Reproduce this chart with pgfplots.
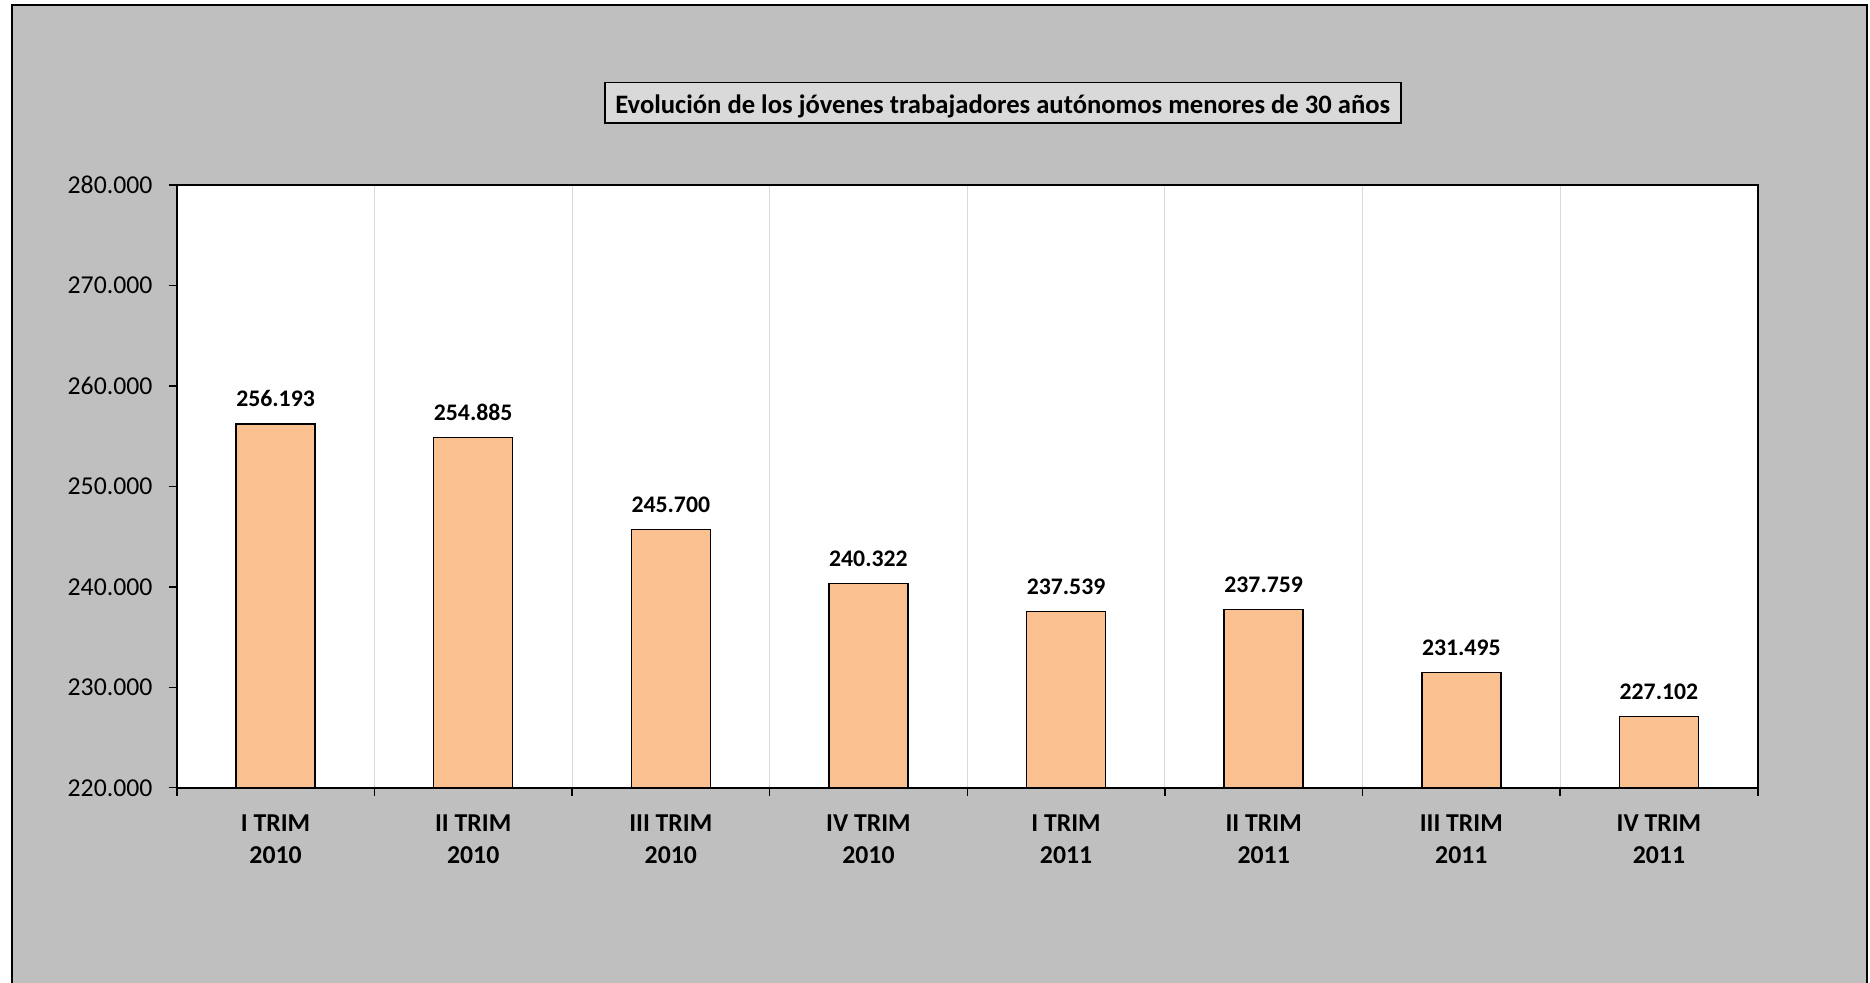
\documentclass[border=0pt]{standalone}
\usepackage{fontspec}
\setmainfont{Carlito}
\usepackage{pgfplots}
\pgfplotsset{compat=1.18}
\definecolor{fondo}{HTML}{BFBFBF}
\definecolor{caja}{HTML}{D9D9D9}
\definecolor{barra}{HTML}{FAC090}
\definecolor{rejilla}{HTML}{D9D9D9}
\begin{document}
\begin{tikzpicture}
% 1 px de la referencia = 0.4bp
\useasboundingbox (0,0) rectangle (748bp,393.2bp);
\fill[white] (0,0) rectangle (748bp,393.2bp);
\filldraw[fill=fondo, draw=black, line width=0.8bp] (4.8bp,-5bp) rectangle (746.8bp,391.3bp);
% titulo
\filldraw[fill=caja, draw=black, line width=0.6bp] (242bp,343.95bp) rectangle (560.3bp,360.25bp);
\node[inner sep=0pt, font=\fontsize{10.65bp}{12bp}\selectfont\bfseries] at (401.1bp,350.6bp)
  {Evolución de los jóvenes trabajadores autónomos menores de 30 años};
\begin{axis}[
  at={(70.7bp,78.1bp)}, anchor=south west,
  scale only axis, width=632.4bp, height=241.1bp,
  axis background/.style={fill=white},
  axis line style={line width=0.8bp},
  ybar, bar width=0.4,
  xmin=-0.5, xmax=7.5, ymin=220000, ymax=280000,
  ytick={220000,230000,...,280000},
  xtick={0,...,7},
  xticklabels={{I TRIM\\2010},{II TRIM\\2010},{III TRIM\\2010},{IV TRIM\\2010},
               {I TRIM\\2011},{II TRIM\\2011},{III TRIM\\2011},{IV TRIM\\2011}},
  xticklabel style={align=center, font=\fontsize{10.3bp}{12.8bp}\selectfont\bfseries, yshift=-4.2bp},
  major x tick style={draw=none},
  minor xtick={-0.5,0.5,...,7.5},
  minor x tick style={black, line width=0.6bp},
  minor x grid style={rejilla, line width=0.4bp},
  xminorgrids=true,
  tick align=outside, major tick length=3.2bp, minor tick length=3.2bp,
  xtick pos=bottom, ytick pos=left,
  y tick style={black, line width=0.6bp},
  yticklabel style={font=\fontsize{10.3bp}{12bp}\selectfont, xshift=-3bp},
  /pgf/number format/.cd, fixed, 1000 sep={.}, assume math mode=true,
  /pgfplots/.cd,
  scaled y ticks=false,
  nodes near coords,
  nodes near coords style={font=\fontsize{9.5bp}{11bp}\selectfont\bfseries, yshift=3.2bp,
    /pgf/number format/.cd, fixed, 1000 sep={.}, assume math mode=true},
  clip=true,
]
\addplot[fill=barra, draw=black, line width=0.6bp] coordinates {
  (0,256193) (1,254885) (2,245700) (3,240322)
  (4,237539) (5,237759) (6,231495) (7,227102)};
\end{axis}
\end{tikzpicture}
\end{document}
